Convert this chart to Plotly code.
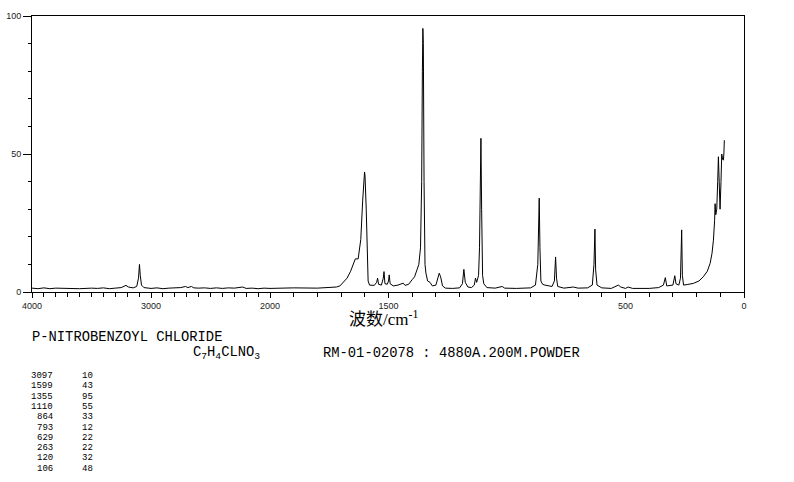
import plotly.graph_objects as go

# ---- data (Raman shift, relative intensity) ----
wavenumber = [
    4000, 3950, 3900, 3850, 3800, 3700, 3650, 3600, 3500, 3450, 3400, 3350, 3300, 3250,
    3210, 3190, 3150, 3120, 3105, 3097, 3090, 3080, 3060, 3000, 2950, 2900, 2850, 2800,
    2750, 2710, 2690, 2660, 2640, 2600, 2550, 2500, 2450, 2400, 2350, 2300, 2230, 2200,
    2150, 2100, 2050, 2000,
    1900, 1800, 1750, 1720, 1705, 1690, 1675, 1660, 1650, 1640, 1628, 1617, 1609, 1601,
    1599, 1594, 1590, 1586, 1580, 1560, 1550, 1546, 1542, 1530, 1522, 1519, 1515, 1505,
    1500, 1497, 1493, 1480, 1460, 1445, 1438, 1430, 1415, 1400, 1390, 1380, 1372, 1365,
    1360, 1357, 1355, 1353, 1350, 1346, 1342, 1335, 1325, 1315, 1300, 1292, 1286, 1280,
    1272, 1260, 1230, 1200, 1188, 1182, 1176, 1165, 1150, 1138, 1133, 1128, 1120, 1116,
    1112, 1110, 1107, 1103, 1098, 1085, 1050, 1020, 1010, 960, 900, 880, 870, 866,
    864, 861, 857, 850, 840, 810, 800, 795, 791, 786, 760, 720, 700, 660,
    640, 633, 629, 626, 620, 600, 560, 530, 520, 500, 489, 470, 400, 360,
    340, 332, 326, 300, 292, 287, 275, 268, 263, 260, 255, 240, 214, 190,
    172, 155, 143, 135, 129, 124, 122, 119, 115, 111, 108, 104, 101, 97,
    94, 90, 87, 85, 83,
]
intensity = [
    1.4, 1.2, 1.5, 1.2, 1.4, 1.3, 1.5, 1.2, 1.4, 1.3, 1.5, 1.2, 1.4, 1.6,
    2.4, 1.8, 1.5, 2.0, 5.0, 10.0, 6.0, 2.5, 1.6, 1.3, 1.5, 1.2, 1.4, 1.5,
    1.6, 2.0, 1.6, 2.0, 1.5, 1.4, 1.5, 1.3, 1.5, 1.3, 1.5, 1.4, 1.8, 1.3,
    1.4, 1.2, 1.4, 1.3,
    1.5, 1.4, 1.6, 1.8, 2.2, 3.5, 5.0, 7.5, 9.5, 12.0, 12.0, 19.0, 33.0, 43.5,
    42.0, 30.0, 12.0, 4.0, 2.5, 2.4, 3.5, 5.0, 2.8, 2.5, 5.0, 7.4, 3.0, 2.8,
    4.0, 6.2, 3.0, 2.2, 2.5, 3.0, 3.2, 2.4, 2.8, 4.5, 5.5, 8.0, 10.0, 16.0,
    40.0, 80.0, 95.5, 90.0, 40.0, 10.0, 6.8, 4.0, 3.5, 2.2, 2.5, 5.0, 6.8, 5.5,
    2.2, 1.4, 1.3, 1.5, 3.0, 8.2, 3.5, 1.8, 1.6, 2.5, 5.0, 3.5, 6.0, 16.0,
    45.0, 55.7, 30.0, 6.0, 3.0, 1.6, 1.4, 2.0, 1.4, 1.3, 1.5, 2.5, 10.0, 25.0,
    34.0, 16.0, 4.0, 2.8, 2.5, 2.0, 4.0, 12.7, 5.0, 2.0, 1.4, 1.8, 1.4, 1.5,
    2.5, 10.0, 22.8, 8.0, 2.5, 1.5, 1.3, 2.5, 1.8, 1.3, 1.8, 1.3, 1.3, 1.6,
    2.5, 5.2, 2.2, 2.5, 5.9, 3.0, 2.5, 5.0, 22.5, 6.0, 2.5, 2.7, 3.1, 4.0,
    5.5, 7.5, 10.4, 14.0, 18.8, 26.0, 32.0, 28.0, 30.0, 40.0, 49.0, 38.0, 30.0, 40.0,
    50.0, 48.0, 47.8, 50.0, 55.0,
]

x_ticks_high = [4000, 3000, 2000]
x_ticks_low = [1500, 500, 0]
y_ticks = [0, 50, 100]

peak_positions = ["3097", "1599", "1355", "1110", "864", "793", "629", "263", "120", "106"]
peak_heights = ["10", "43", "95", "55", "33", "12", "22", "22", "32", "48"]

compound_name = "P-NITROBENZOYL CHLORIDE"
formula = "C<sub>7</sub>H<sub>4</sub>CLNO<sub>3</sub>"
record_info = "RM-01-02078 : 4880A.200M.POWDER"
x_title = "波数/cm<sup>-1</sup>"

# ---- layout geometry (pixels) ----
W, H = 794, 482
L, R, T, B = 32, 744, 16, 292
SPLIT = 270  # pixel where the scale changes (2000 cm-1)


def px(x):
    return (x - L) / (R - L)


def py(y):
    return (B - y) / (B - T)


hi = [(w, i) for w, i in zip(wavenumber, intensity) if w >= 2000]
lo = [(w, i) for w, i in zip(wavenumber, intensity) if w <= 2000]

fig = go.Figure()
fig.add_trace(go.Scatter(x=[p[0] for p in hi], y=[p[1] for p in hi], xaxis="x", yaxis="y",
                         mode="lines", line=dict(color="black", width=1), hoverinfo="skip"))
fig.add_trace(go.Scatter(x=[p[0] for p in lo], y=[p[1] for p in lo], xaxis="x2", yaxis="y2",
                         mode="lines", line=dict(color="black", width=1), hoverinfo="skip"))

d = px(SPLIT)
tick_font = dict(family="Liberation Sans Narrow, Liberation Sans, Arial", size=9, color="#222")
common_x = dict(ticks="outside", ticklen=5, tickcolor="black", tickwidth=1,
                showline=True, linecolor="black", linewidth=1, mirror=True,
                showgrid=False, zeroline=False, tickfont=tick_font, automargin=False,
                minor=dict(dtick=100, tick0=0, ticks="outside", ticklen=4,
                           tickcolor="black", tickwidth=1, showgrid=False))

fig.update_layout(
    width=W, height=H,
    margin=dict(l=L, r=W - R, t=T, b=H - B, pad=0, autoexpand=False),
    paper_bgcolor="white", plot_bgcolor="white", showlegend=False,
    xaxis=dict(domain=[0, d], range=[4000, 2000], tickvals=x_ticks_high,
               ticktext=[str(v) for v in x_ticks_high], anchor="y", **common_x),
    xaxis2=dict(domain=[d, 1], range=[2000, 0], tickvals=x_ticks_low,
                ticktext=[str(v) for v in x_ticks_low], anchor="y2", **common_x),
    yaxis=dict(domain=[0, 1], range=[0, 100], tickvals=y_ticks,
               ticktext=[str(v) for v in y_ticks], ticks="outside", ticklen=8,
               tickcolor="black", showline=True, linecolor="black", linewidth=1,
               showgrid=False, zeroline=False, tickfont=tick_font, anchor="x",
               automargin=False,
               minor=dict(dtick=10, tick0=0, ticks="outside", ticklen=3,
                          tickcolor="black", showgrid=False)),
    yaxis2=dict(domain=[0, 1], range=[0, 100], matches="y", anchor="x2", side="right",
                showline=True, linecolor="black", linewidth=1, showticklabels=False,
                ticks="", showgrid=False, zeroline=False, automargin=False),
)

ann = []
# x-axis title
ann.append(dict(x=px(383), y=py(318), xref="paper", yref="paper", text=x_title,
                showarrow=False, xanchor="center", yanchor="middle",
                font=dict(family="Liberation Serif, Noto Sans CJK SC", size=17, color="black")))
mono = "Liberation Mono, DejaVu Sans Mono, monospace"
ann.append(dict(x=px(30), y=py(337), xref="paper", yref="paper", text=compound_name,
                showarrow=False, xanchor="left", yanchor="middle",
                font=dict(family=mono, size=13.8, color="black")))
ann.append(dict(x=px(191), y=py(353), xref="paper", yref="paper", text=formula,
                showarrow=False, xanchor="left", yanchor="middle",
                font=dict(family=mono, size=13.8, color="black")))
ann.append(dict(x=px(321), y=py(353), xref="paper", yref="paper", text=record_info,
                showarrow=False, xanchor="left", yanchor="middle",
                font=dict(family=mono, size=13.8, color="black")))
for k, (pw, ph) in enumerate(zip(peak_positions, peak_heights)):
    yy = 376 + k * 10.3
    ann.append(dict(x=px(54.5), y=py(yy), xref="paper", yref="paper", text=pw,
                    showarrow=False, xanchor="right", yanchor="middle",
                    font=dict(family=mono, size=9, color="black")))
    ann.append(dict(x=px(94.5), y=py(yy), xref="paper", yref="paper", text=ph,
                    showarrow=False, xanchor="right", yanchor="middle",
                    font=dict(family=mono, size=9, color="black")))
fig.update_layout(annotations=ann)

fig.write_html("out.html", config={"displayModeBar": False},
               post_script="document.body.style.margin='0px';document.body.style.padding='0px';")
